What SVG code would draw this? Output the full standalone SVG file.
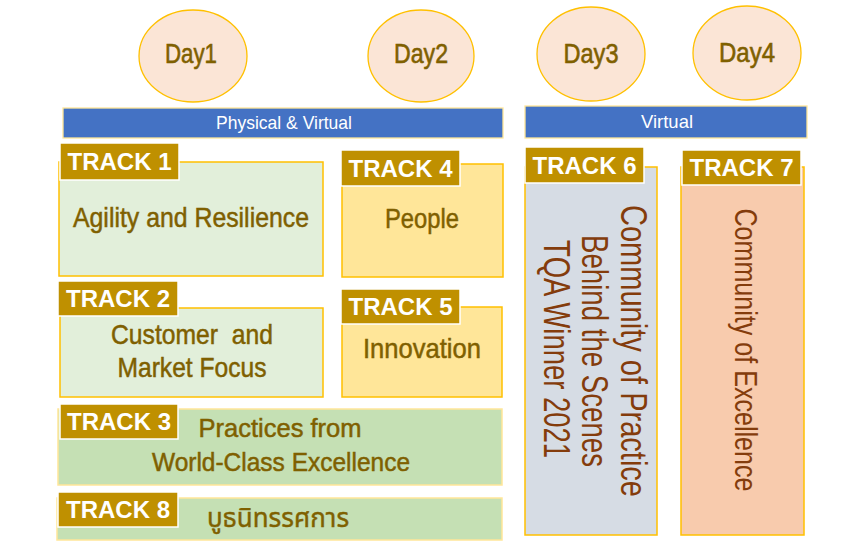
<svg xmlns="http://www.w3.org/2000/svg" width="856" height="548" viewBox="0 0 856 548">
<style>
.day{fill:#FBE5D6;stroke:#FFC000;stroke-width:1.3}
.dayt{font-family:"Liberation Sans",Arial,sans-serif;font-size:28px;fill:#7F6000;stroke:#7F6000;stroke-width:0.6;text-anchor:middle}
.bar{fill:#4472C4;stroke:#FFE699;stroke-width:1.3}
.bart{font-family:"Liberation Sans",Arial,sans-serif;font-size:19px;fill:#FFFFFF;text-anchor:middle}
.g1{fill:#E2EFDA;stroke:#FFC000;stroke-width:1.5}
.g2{fill:#C5E0B4;stroke:#FFE699;stroke-width:1.5}
.y1{fill:#FFE699;stroke:#FFC000;stroke-width:1.5}
.bl{fill:#D6DCE4;stroke:#FFC000;stroke-width:1.5}
.or{fill:#F8CBAD;stroke:#FFC000;stroke-width:1.5}
.lab{fill:#BF9000;stroke:#FFFFFF;stroke-width:1.5}
.labt{font-family:"Liberation Sans",Arial,sans-serif;font-size:24px;font-weight:bold;fill:#FFFFFF;text-anchor:middle}
.bt{font-family:"Liberation Sans",Arial,sans-serif;font-size:28px;fill:#7F6000;stroke:#7F6000;stroke-width:0.5;text-anchor:middle}
.bt2{font-family:"Liberation Sans",Arial,sans-serif;font-size:26px;fill:#7F6000;stroke:#7F6000;stroke-width:0.5;text-anchor:middle}
.th{font-family:"Noto Sans Thai","Noto Sans Thai UI","Noto Sans","DejaVu Sans",sans-serif;font-size:26px;fill:#7F6000;stroke:#7F6000;stroke-width:0.4;text-anchor:middle}
.vt{font-family:"Liberation Sans",Arial,sans-serif;font-size:36px;fill:#843C0C;text-anchor:middle}
.vt2{font-family:"Liberation Sans",Arial,sans-serif;font-size:31px;fill:#843C0C;text-anchor:middle}
</style>
<g id="day1"><ellipse class="day" cx="193" cy="56" rx="54" ry="46"/><text class="dayt" x="191" y="63" textLength="52" lengthAdjust="spacingAndGlyphs">Day1</text></g>
<g id="day2"><ellipse class="day" cx="421" cy="56" rx="53" ry="46"/><text class="dayt" x="421" y="63" textLength="54" lengthAdjust="spacingAndGlyphs">Day2</text></g>
<g id="day3"><ellipse class="day" cx="591" cy="54" rx="54" ry="47"/><text class="dayt" x="591" y="63" textLength="55" lengthAdjust="spacingAndGlyphs">Day3</text></g>
<g id="day4"><ellipse class="day" cx="747" cy="53" rx="54" ry="47"/><text class="dayt" x="747" y="62" textLength="56" lengthAdjust="spacingAndGlyphs">Day4</text></g>

<g id="bar-physical"><rect class="bar" x="63" y="108" width="440" height="30"/><text class="bart" x="284" y="129" textLength="136" lengthAdjust="spacingAndGlyphs">Physical &amp; Virtual</text></g>
<g id="bar-virtual"><rect class="bar" x="525" y="106" width="282" height="32"/><text class="bart" x="667" y="128" textLength="52" lengthAdjust="spacingAndGlyphs">Virtual</text></g>

<g id="track1">
<rect class="g1" x="59" y="162" width="264" height="114"/>
<rect class="lab" x="60" y="143" width="119" height="37"/>
<text class="labt" x="119.5" y="170">TRACK 1</text>
<text class="bt" x="191" y="227" textLength="236" lengthAdjust="spacingAndGlyphs">Agility and Resilience</text>
</g>
<g id="track2">
<rect class="g1" x="60" y="308" width="263" height="89"/>
<rect class="lab" x="58" y="281" width="120" height="35"/>
<text class="labt" x="118" y="307">TRACK 2</text>
<text class="bt" x="192" y="344" textLength="162" lengthAdjust="spacingAndGlyphs" xml:space="preserve">Customer  and</text>
<text class="bt" x="192" y="377" textLength="149" lengthAdjust="spacingAndGlyphs">Market Focus</text>
</g>
<g id="track3">
<rect class="g2" x="58" y="409" width="444" height="76"/>
<rect class="lab" x="60" y="404" width="118" height="35"/>
<text class="labt" x="119" y="430">TRACK 3</text>
<text class="bt2" x="280" y="437" textLength="163" lengthAdjust="spacingAndGlyphs">Practices from</text>
<text class="bt2" x="281" y="471" textLength="258" lengthAdjust="spacingAndGlyphs">World-Class Excellence</text>
</g>
<g id="track8">
<rect class="g2" x="57" y="498" width="445" height="42"/>
<rect class="lab" x="58" y="492" width="120" height="35"/>
<text class="labt" x="118" y="518">TRACK 8</text>
<text class="th" x="278" y="527">บูธนิทรรศการ</text>
</g>
<g id="track4">
<rect class="y1" x="342" y="164" width="161" height="113"/>
<rect class="lab" x="341" y="150" width="119" height="36"/>
<text class="labt" x="400.5" y="176.5">TRACK 4</text>
<text class="bt" x="422" y="228" textLength="74" lengthAdjust="spacingAndGlyphs">People</text>
</g>
<g id="track5">
<rect class="y1" x="342" y="307" width="160" height="90"/>
<rect class="lab" x="341" y="289" width="119" height="35"/>
<text class="labt" x="400.5" y="315">TRACK 5</text>
<text class="bt" x="422" y="358" textLength="118" lengthAdjust="spacingAndGlyphs">Innovation</text>
</g>
<g id="track6">
<rect class="bl" x="525" y="167" width="132" height="368"/>
<rect class="lab" x="525" y="147" width="119" height="36"/>
<text class="labt" x="584.5" y="173.5">TRACK 6</text>
<text class="vt" transform="translate(621,351) rotate(90)" textLength="292" lengthAdjust="spacingAndGlyphs">Community of Practice</text>
<text class="vt" transform="translate(582,351) rotate(90)" textLength="232" lengthAdjust="spacingAndGlyphs">Behind the Scenes</text>
<text class="vt" transform="translate(544,349) rotate(90)" textLength="218" lengthAdjust="spacingAndGlyphs">TQA Winner 2021</text>
</g>
<g id="track7">
<rect class="or" x="681" y="167" width="123" height="368"/>
<rect class="lab" x="682" y="150" width="119" height="35"/>
<text class="labt" x="741.5" y="176">TRACK 7</text>
<text class="vt2" transform="translate(735,350) rotate(90)" textLength="283" lengthAdjust="spacingAndGlyphs">Community of Excellence</text>
</g>
<g id="connectors"/>
</svg>
